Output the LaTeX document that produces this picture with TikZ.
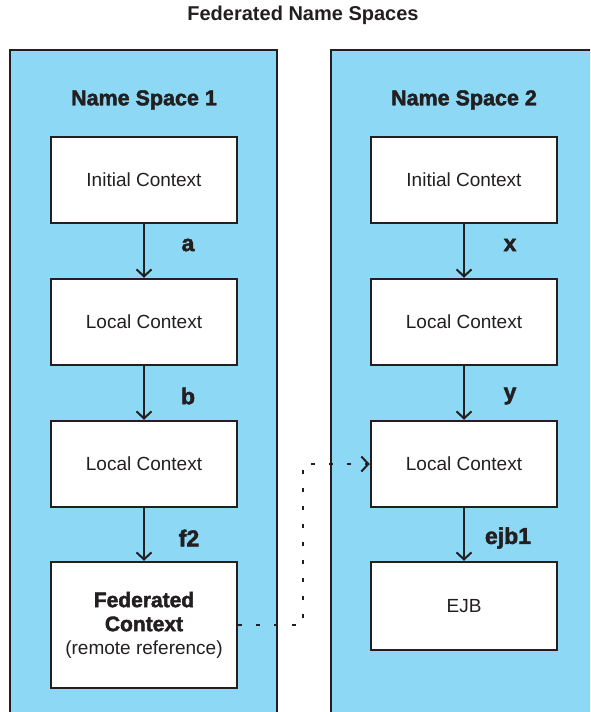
\documentclass[tikz,border=0pt]{standalone}
\usepackage{fontspec}
\setmainfont{Liberation Sans}
\newfontfamily\heavyfont{Liberation Sans Bold}[FakeBold=2]
\usetikzlibrary{arrows.meta}
\definecolor{spaceblue}{RGB}{140,216,245}
\definecolor{ink}{RGB}{35,31,32}

\begin{document}
\begin{tikzpicture}[x=1pt,y=-1pt,
  ctx/.style={draw=ink,line width=2.5pt,fill=white,minimum width=186pt,minimum height=86pt,
    align=center,text=ink,font=\fontsize{19}{24}\selectfont},
  link/.style={draw=ink,line width=2pt,-{Straight Barb[length=7pt,width=15pt,line width=2pt]}},
  lbl/.style={text=ink,font=\fontsize{23}{26}\heavyfont},
  head/.style={text=ink,font=\fontsize{21.5}{24}\heavyfont}]
\useasboundingbox (0,0) rectangle (590,712);
\clip (0,0) rectangle (590,712);
% the two name spaces
\draw[draw=ink,fill=spaceblue,line width=2pt] (10,50) rectangle (277,730);
\draw[draw=ink,fill=spaceblue,line width=2pt] (331,50) rectangle (610,730);
\node[text=ink,font=\fontsize{20}{24}\selectfont\bfseries] (title) at (303,15) {Federated Name Spaces};
\node[head] (ns1) at (144,100) {Name Space 1};
\node[head] (ns2) at (464,100) {Name Space 2};
% name space 1
\node[ctx] (init1) at (144,180) {Initial Context};
\node[ctx] (loc1a) at (144,322) {Local Context};
\node[ctx] (loc1b) at (144,464) {Local Context};
\node[ctx,minimum height=126pt] (fed) at (144,625) {{\fontsize{21}{24}\heavyfont Federated}\\[0pt]{\fontsize{21}{24}\heavyfont Context}\\[-1pt](remote reference)};
\draw[link] (init1) -- (loc1a);
\draw[link] (loc1a) -- (loc1b);
\draw[link] (loc1b) -- (fed);
\node[lbl] (a) at (188,245) {a};
\node[lbl] (b) at (188,396) {b};
\node[lbl] (f2) at (189,538) {f2};
% name space 2
\node[ctx] (init2) at (464,180) {Initial Context};
\node[ctx] (loc2a) at (464,322) {Local Context};
\node[ctx] (loc2b) at (464,464) {Local Context};
\node[ctx,minimum height=88pt] (ejb) at (464,606) {EJB};
\draw[link] (init2) -- (loc2a);
\draw[link] (loc2a) -- (loc2b);
\draw[link] (loc2b) -- (ejb);
\node[lbl] (x) at (510,245) {x};
\node[lbl] (y) at (510,396) {y};
\node[lbl] (ejb1) at (508,538) {ejb1};
% remote reference
\coordinate (bend) at (303,625);
\draw[link,line width=2.5pt,dash pattern=on 4pt off 14pt] (fed.east) -- (bend) |- (loc2b.west);
\end{tikzpicture}
\end{document}
